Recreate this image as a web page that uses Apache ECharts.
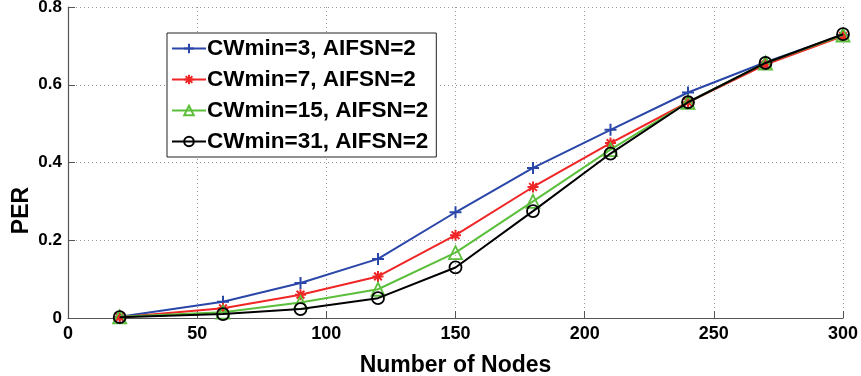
<!DOCTYPE html>
<html><head><meta charset="utf-8">
<script src="https://cdn.jsdelivr.net/npm/echarts@6/dist/echarts.min.js"></script>
<style>html,body{margin:0;padding:0;background:#fff}#c{width:861px;height:376px}</style>
</head><body><div id="c"></div>
<script>
const nodes = [20, 60, 90, 120, 150, 180, 210, 240, 270, 300];
const cw3  = [0.003, 0.042, 0.090, 0.152, 0.272, 0.386, 0.484, 0.580, 0.658, 0.728];
const cw7  = [0.002, 0.025, 0.060, 0.107, 0.213, 0.337, 0.450, 0.555, 0.652, 0.725];
const cw15 = [0.003, 0.015, 0.040, 0.074, 0.168, 0.300, 0.433, 0.555, 0.656, 0.728];
const cw31 = [0.002, 0.010, 0.023, 0.051, 0.130, 0.275, 0.423, 0.555, 0.656, 0.730];
const names = ['CWmin=3, AIFSN=2', 'CWmin=7, AIFSN=2', 'CWmin=15, AIFSN=2', 'CWmin=31, AIFSN=2'];
const colors = ['#2a46a8', '#f02525', '#5cbf3c', '#000000'];
const xTicks = [0, 50, 100, 150, 200, 250, 300];
const yTicks = [0, 0.2, 0.4, 0.6, 0.8];

const FONT = 'Liberation Sans';
const plus = 'path://M5,0L5,10M0,5L10,5';
const star = 'path://M5,0L5,10M0,5L10,5M1.5,1.5L8.5,8.5M8.5,1.5L1.5,8.5';
const symbols = [plus, star, 'triangle', 'circle'];
const sizes = [12, 11, 13, 12];
const datas = [cw3, cw7, cw15, cw31];

const chart = echarts.init(document.getElementById('c'));
chart.setOption({
  animation: false,
  backgroundColor: '#fff',
  grid: { left: 68, right: 18, top: 7, bottom: 58, containLabel: false, outerBoundsMode: 'none' },
  legend: {
    orient: 'vertical', left: 167, top: 33,
    backgroundColor: '#fff', borderColor: '#222', borderWidth: 1,
    padding: [4, 8, 4, 4],
    itemGap: 8, itemWidth: 34, itemHeight: 12,
    textStyle: { fontFamily: FONT, fontSize: 22.5, fontWeight: 'bold', color: '#000', lineHeight: 23, padding: [0, 0, 0, -4] },
    data: names
  },
  xAxis: {
    type: 'value', min: 0, max: 300, interval: 50,
    name: 'Number of Nodes', nameLocation: 'middle', nameGap: 36,
    nameTextStyle: { fontFamily: FONT, fontSize: 23, fontWeight: 'bold', color: '#000' },
    axisLine: { onZero: false, lineStyle: { color: '#555', width: 1.2 } },
    axisTick: { inside: true, length: 7, lineStyle: { color: '#555' } },
    axisLabel: { fontFamily: FONT, fontSize: 18, fontWeight: 'bold', color: '#000', margin: 7,
      formatter: v => xTicks.includes(v) ? String(v) : '' },
    splitLine: { show: true, lineStyle: { color: '#999', type: [1, 3], width: 1 } }
  },
  yAxis: {
    type: 'value', min: 0, max: 0.8, interval: 0.2,
    name: 'PER', nameLocation: 'middle', nameGap: 35, nameRotate: 90, nameMoveOverlap: false,
    nameTextStyle: { fontFamily: FONT, fontSize: 23, fontWeight: 'bold', color: '#000', padding: [0, 96, 0, 0] },
    axisLine: { show: true, lineStyle: { color: '#555', width: 1.2 } },
    axisTick: { show: true, inside: true, length: 7, lineStyle: { color: '#555' } },
    axisLabel: { fontFamily: FONT, fontSize: 17, fontWeight: 'bold', color: '#000', margin: 6,
      formatter: v => { const t = yTicks.find(y => Math.abs(y - v) < 1e-9); return t === undefined ? '' : String(t); } },
    splitLine: { show: true, lineStyle: { color: '#999', type: [1, 3], width: 1 } }
  },
  series: names.map((n, i) => ({
    name: n, type: 'line',
    data: nodes.map((x, j) => [x, datas[i][j]]),
    symbol: symbols[i], symbolSize: sizes[i], showAllSymbol: true,
    lineStyle: { color: colors[i], width: 2 },
    itemStyle: i < 2
      ? { color: colors[i], borderColor: colors[i], borderWidth: 2 }
      : { color: 'rgba(0,0,0,0)', borderColor: colors[i], borderWidth: 1.8 },
    z: 2 + i
  }))
});
</script></body></html>
